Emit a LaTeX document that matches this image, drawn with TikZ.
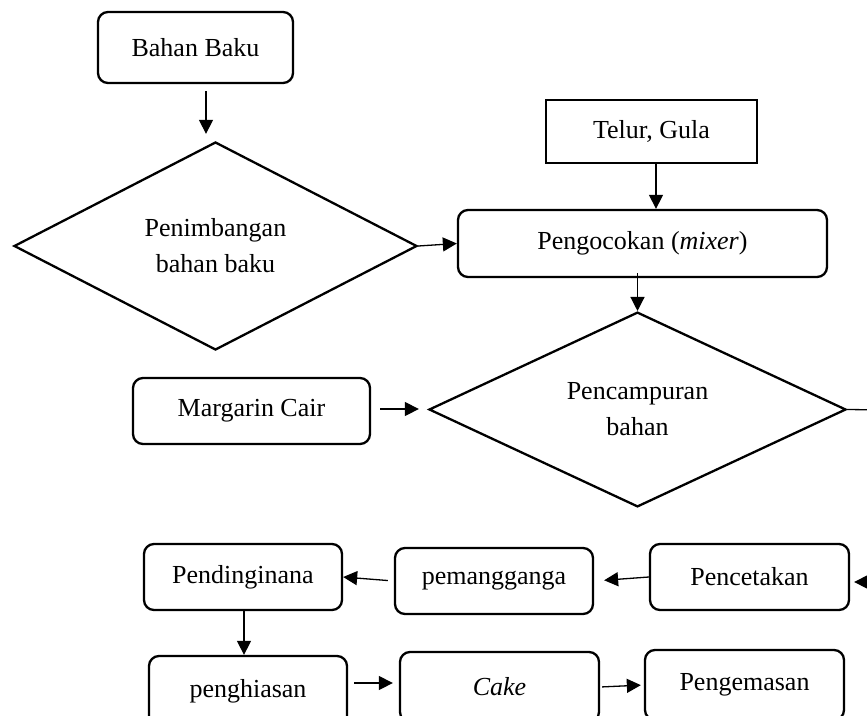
\documentclass[tikz,border=0pt]{standalone}
\usepackage{fontspec}
\setmainfont{Liberation Serif}
\usetikzlibrary{shapes.geometric,arrows.meta}
\begin{document}
\begin{tikzpicture}[x=1pt,y=-1pt,
  every node/.style={font=\fontsize{26}{36}\selectfont},
  rbox/.style={draw,line width=2.3pt,rounded corners=10pt,inner sep=0pt},
  sbox/.style={draw,line width=2.3pt,inner sep=0pt},
  dia/.style={draw,diamond,line width=2.3pt,inner sep=0pt,align=center},
  arr/.style={line width=1.3pt,-{Triangle[length=14pt,width=14pt]}},
  ln/.style={line width=1.3pt}]
\useasboundingbox (0,0) rectangle (867,715);
\clip (0,0) rectangle (867,715);
% nodes
\node[rbox,minimum width=195pt,minimum height=71pt] (bb) at (195.5,47.5) {Bahan Baku};
\node[dia,minimum width=403pt,minimum height=208pt] (d1) at (215.5,246) {Penimbangan\\bahan baku};
\node[sbox,minimum width=211pt,minimum height=63pt] (tg) at (651.5,131.5) {Telur, Gula};
\node[rbox,minimum width=369pt,minimum height=67pt] (pk) at (642.5,243.5) {Pengocokan (\textit{mixer})};
\node[dia,minimum width=417pt,minimum height=189pt] (d2) at (637.5,409.5) {Pencampuran\\bahan};
\node[rbox,minimum width=237pt,minimum height=66pt] (mc) at (251.5,411) {Margarin Cair};
\node[rbox,minimum width=199pt,minimum height=66pt] (pc) at (749.5,577) {Pencetakan};
\node[rbox,minimum width=198pt,minimum height=66pt] (pm) at (494,581) {pemangganga};
\node[rbox,minimum width=198pt,minimum height=66pt] (pd) at (243,577) {Pendinginana};
\node[rbox,minimum width=198pt,minimum height=70pt] (ph) at (248,691) {penghiasan};
\node[rbox,minimum width=199pt,minimum height=70pt] (ck) at (499.5,687) {\textit{Cake}};
\node[rbox,minimum width=199pt,minimum height=70pt] (pg) at (744.5,685) {Pengemasan};
\coordinate (r1) at (890,410);
\coordinate (r2) at (890,582);
% connectors
\draw[arr,shorten <=7pt,shorten >=7pt] ([xshift=10.5pt]bb.south) -- ([xshift=10.5pt]bb.south |- d1.north);
\draw[arr] (d1.east) -- (pk.west);
\draw[arr] ([xshift=4.5pt]tg.south) -- ([xshift=4.5pt]tg.south |- pk.north);
\draw[arr,shorten <=-5pt] (pk.south -| d2.north) -- (d2.north);
\draw[arr,shorten <=9pt,shorten >=9pt] ([yshift=2pt]mc.east) -- ([yshift=2pt]mc.east -| d2.west);
\draw[ln] (d2.east) -- (r1) -- (r2);
\draw[arr,shorten >=4pt] (r2) -- (r2 -| pc.east);
\draw[arr,shorten >=10pt] (pc.west) -- (pm.east);
\draw[arr,shorten <=6pt] (pm.west) -- (pd.east);
\draw[arr] ([xshift=1pt]pd.south) -- ([xshift=1pt]pd.south |- ph.north);
\draw[arr,shorten <=6pt,shorten >=6pt] ([yshift=8pt]ph.east) -- ([yshift=8pt]ph.east -| ck.west);
\draw[arr,shorten <=2pt,shorten >=3pt] (ck.east) -- (pg.west);
\end{tikzpicture}
\end{document}
